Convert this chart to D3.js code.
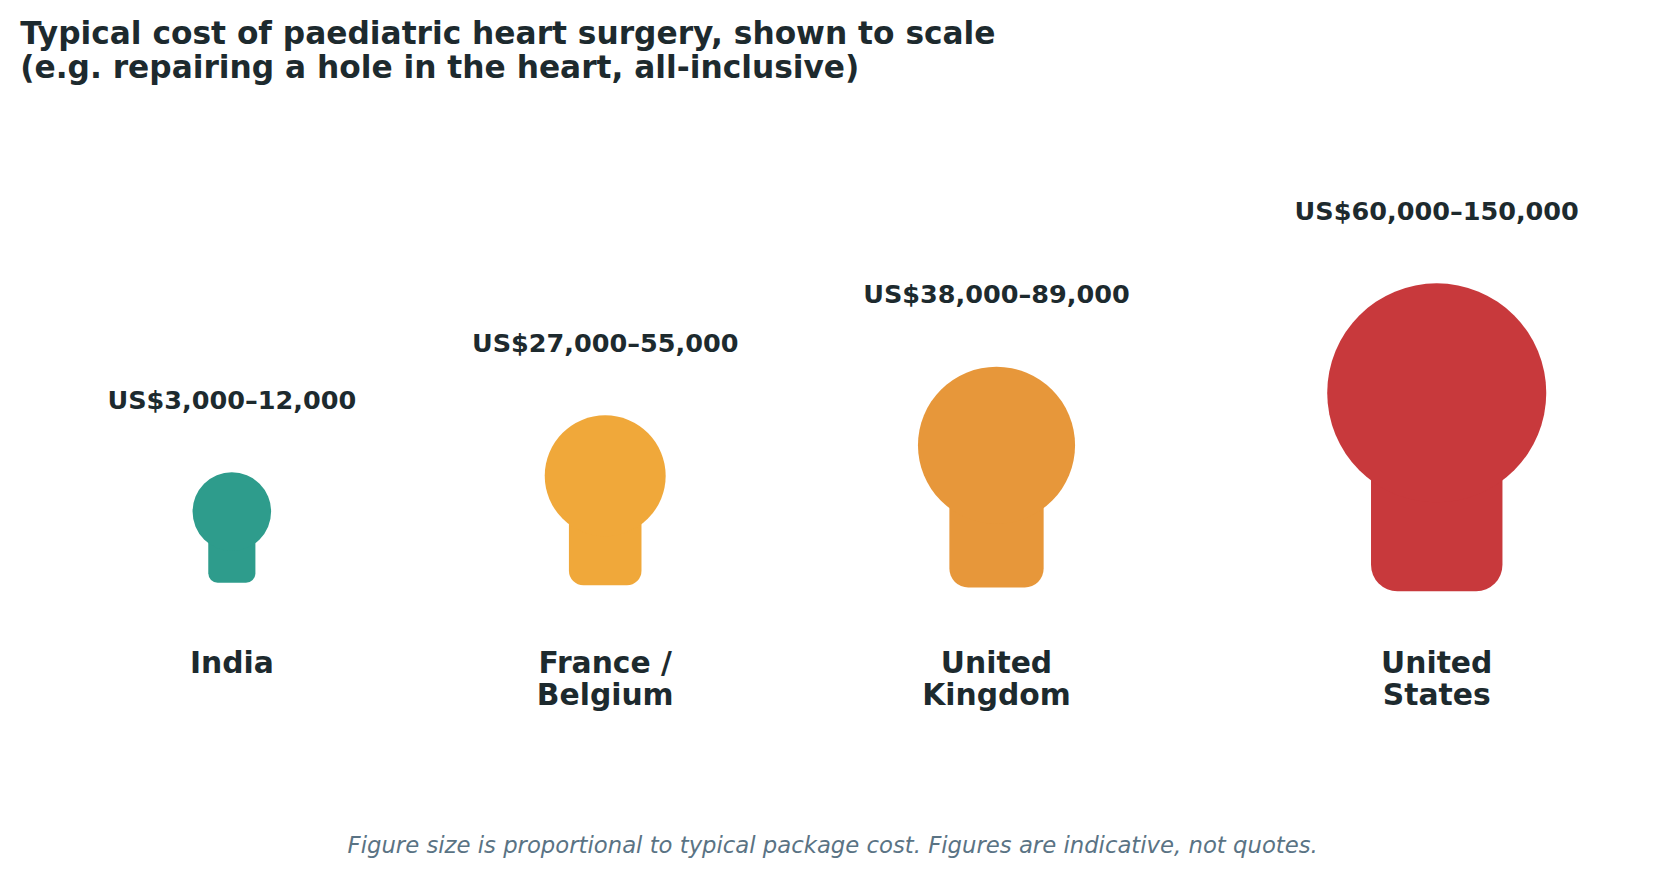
<!DOCTYPE html>
<html><head><meta charset="utf-8">
<script src="https://cdn.jsdelivr.net/npm/d3@7"></script>
<style>body{margin:0;background:#fff;font-family:"DejaVu Sans",sans-serif}</style>
</head><body>
<script>
// chart data
var countries = [["India"], ["France /", "Belgium"], ["United", "Kingdom"], ["United", "States"]];
var costLabels = ["US$3,000\u201312,000", "US$27,000\u201355,000", "US$38,000\u201389,000", "US$60,000\u2013150,000"];
var typicalCost = [13500, 32000, 54000, 105000];
var colors = ["#2e9c8c", "#f0a83a", "#e7973a", "#c8393c"];

var W = 1659, H = 873, ink = "#1d2a2e";
var svg = d3.select("body").append("svg").attr("width", W).attr("height", H)
    .append("g").attr("transform", "scale(" + (W/1560) + ")");

var r = d3.scaleSqrt().domain([0, d3.max(typicalCost)]).range([0, 103]);

// place figures left to right with equal gaps between their slots (slot at least 57 wide each side)
var firstX = 218, lastX = 1351, minSlot = 57;
var radii = typicalCost.map(r);
var slots = radii.map(function(d){ return Math.max(d, minSlot); });
var sumR = d3.sum(slots.slice(1).map(function(d, i){ return d + slots[i]; }));
var gap = (lastX - firstX - sumR) / (slots.length - 1);
var xs = [firstX];
for (var i = 1; i < slots.length; i++) xs.push(xs[i-1] + slots[i-1] + slots[i] + gap);

var data = countries.map(function(c, i){
    var rr = radii[i], base = 543.5 + 0.12*rr;
    return {name: c, label: costLabels[i], color: colors[i], r: rr, x: xs[i], cy: base - 1.81*rr, base: base};
});

var g = svg.selectAll("g.fig").data(data).enter().append("g").attr("class", "fig");

g.append("rect")
    .attr("x", function(d){ return d.x - 0.6*d.r; })
    .attr("y", function(d){ return d.cy; })
    .attr("width", function(d){ return 1.2*d.r; })
    .attr("height", function(d){ return d.base - d.cy; })
    .attr("rx", function(d){ return 0.24*d.r; })
    .attr("fill", function(d){ return d.color; });

g.append("circle")
    .attr("cx", function(d){ return d.x; })
    .attr("cy", function(d){ return d.cy; })
    .attr("r", function(d){ return d.r; })
    .attr("fill", function(d){ return d.color; });

g.append("text")
    .attr("x", function(d){ return d.x; })
    .attr("y", function(d){ return d.cy - d.r - 60; })
    .attr("text-anchor", "middle")
    .attr("font-size", 24).attr("font-weight", "bold").attr("fill", ink)
    .text(function(d){ return d.label; });

g.append("text")
    .attr("text-anchor", "middle")
    .attr("font-size", 28).attr("font-weight", "bold").attr("fill", ink)
    .selectAll("tspan").data(function(d){ return d.name.map(function(n){ return {n: n, x: d.x}; }); })
    .enter().append("tspan")
    .attr("x", function(d){ return d.x; })
    .attr("y", function(d, i){ return 633 + i*30; })
    .text(function(d){ return d.n; });

// title
svg.append("text").attr("x", 19).attr("font-size", 29.4).attr("font-weight", "bold").attr("fill", ink)
    .selectAll("tspan")
    .data(["Typical cost of paediatric heart surgery, shown to scale", "(e.g. repairing a hole in the heart, all-inclusive)"])
    .enter().append("tspan").attr("x", 19).attr("y", function(d, i){ return 41 + i*32; }).text(function(d){ return d; });

svg.append("text").attr("x", 783).attr("y", 802).attr("text-anchor", "middle")
    .attr("font-size", 21.4).attr("font-style", "italic").attr("fill", "#5a7384")
    .text("Figure size is proportional to typical package cost. Figures are indicative, not quotes.");
</script>
</body></html>
